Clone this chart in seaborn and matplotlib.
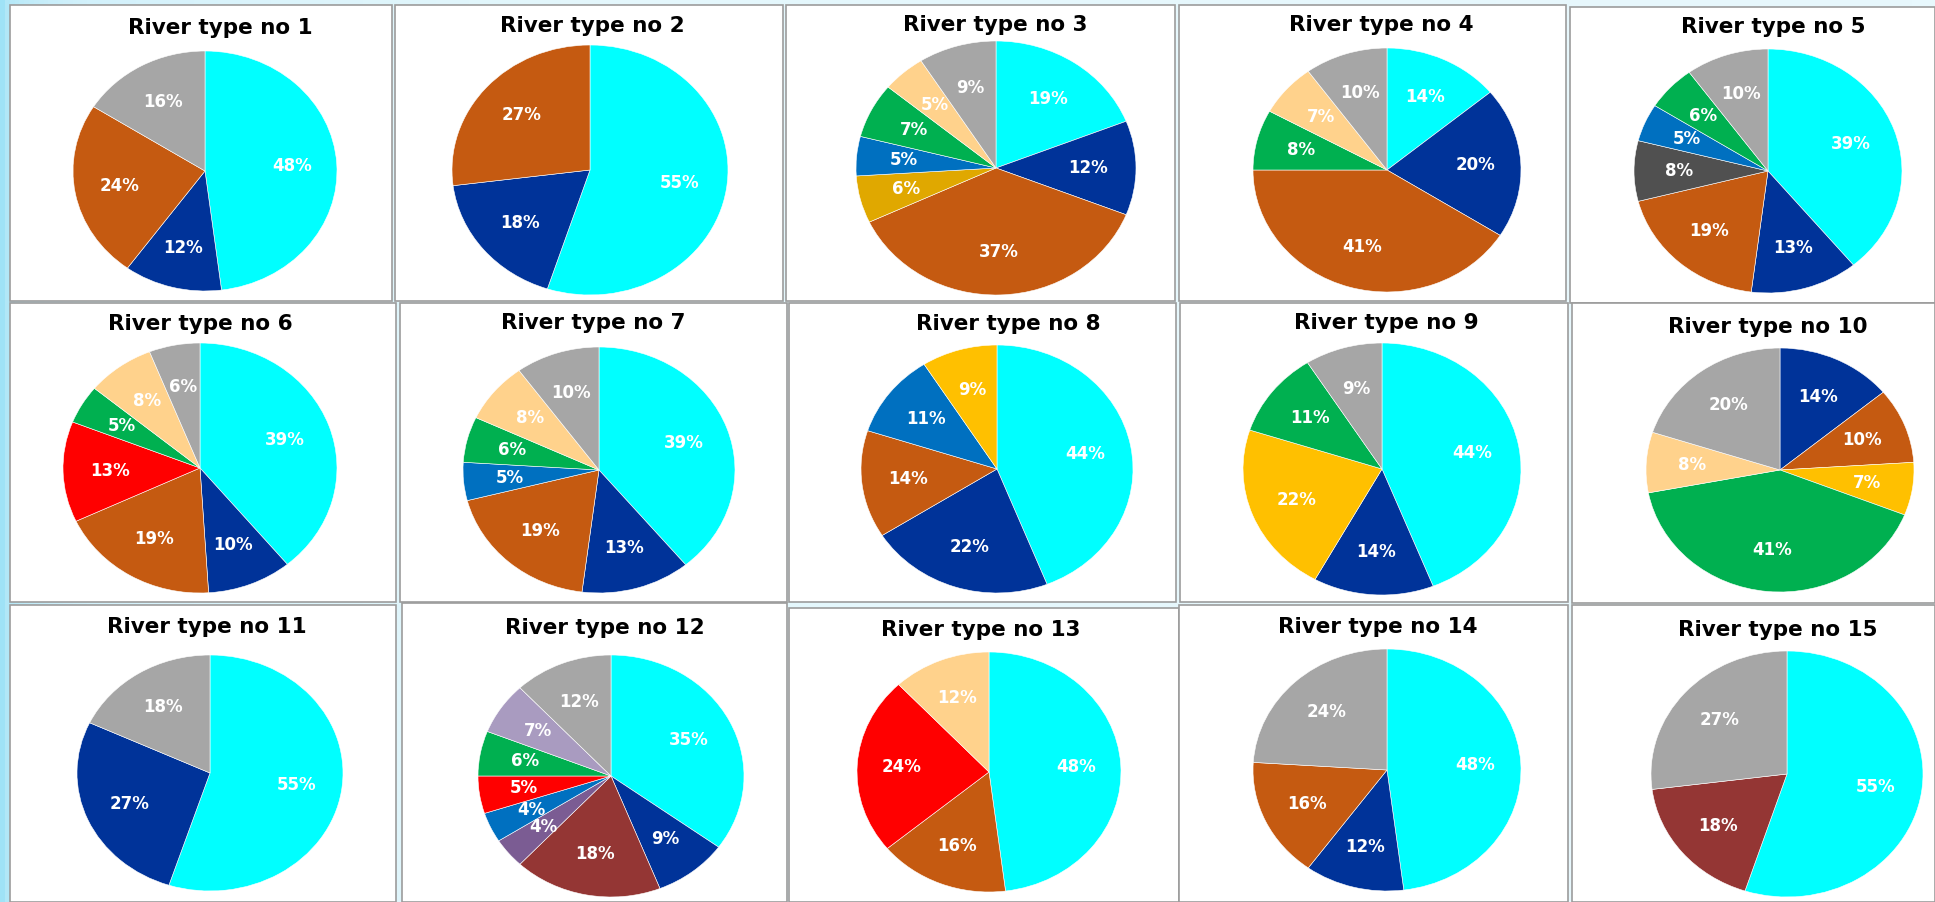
import matplotlib
matplotlib.use("Agg")
import matplotlib.pyplot as plt
from matplotlib.patches import Rectangle
from matplotlib.colors import LinearSegmentedColormap
import numpy as np
import seaborn as sns

# ---------------- data ----------------
titles = ["River type no 1", "River type no 2", "River type no 3", "River type no 4",
          "River type no 5", "River type no 6", "River type no 7", "River type no 8",
          "River type no 9", "River type no 10", "River type no 11", "River type no 12",
          "River type no 13", "River type no 14", "River type no 15"]

river_01_shares = [48, 12, 24, 16]
river_01_classes = ["cyan", "navy", "rust", "gray"]
river_02_shares = [55, 18, 27]
river_02_classes = ["cyan", "navy", "rust"]
river_03_shares = [19, 12, 37, 6, 5, 7, 5, 9]
river_03_classes = ["cyan", "navy", "rust", "ochre", "blue", "green", "peach", "gray"]
river_04_shares = [14, 20, 41, 8, 7, 10]
river_04_classes = ["cyan", "navy", "rust", "green", "peach", "gray"]
river_05_shares = [39, 13, 19, 8, 5, 6, 10]
river_05_classes = ["cyan", "navy", "rust", "charcoal", "blue", "green", "gray"]
river_06_shares = [39, 10, 19, 13, 5, 8, 6]
river_06_classes = ["cyan", "navy", "rust", "red", "green", "peach", "gray"]
river_07_shares = [39, 13, 19, 5, 6, 8, 10]
river_07_classes = ["cyan", "navy", "rust", "blue", "green", "peach", "gray"]
river_08_shares = [44, 22, 14, 11, 9]
river_08_classes = ["cyan", "navy", "rust", "blue", "gold"]
river_09_shares = [44, 14, 22, 11, 9]
river_09_classes = ["cyan", "navy", "gold", "green", "gray"]
river_10_shares = [14, 10, 7, 41, 8, 20]
river_10_classes = ["navy", "rust", "gold", "green", "peach", "gray"]
river_11_shares = [55, 27, 18]
river_11_classes = ["cyan", "navy", "gray"]
river_12_shares = [35, 9, 18, 4, 4, 5, 6, 7, 12]
river_12_classes = ["cyan", "navy", "maroon", "purple", "blue", "red", "green", "lavender", "gray"]
river_13_shares = [48, 16, 24, 12]
river_13_classes = ["cyan", "rust", "red", "peach"]
river_14_shares = [48, 12, 16, 24]
river_14_classes = ["cyan", "navy", "rust", "gray"]
river_15_shares = [55, 18, 27]
river_15_classes = ["cyan", "maroon", "gray"]

shares = [river_01_shares, river_02_shares, river_03_shares, river_04_shares, river_05_shares,
          river_06_shares, river_07_shares, river_08_shares, river_09_shares, river_10_shares,
          river_11_shares, river_12_shares, river_13_shares, river_14_shares, river_15_shares]
classes = [river_01_classes, river_02_classes, river_03_classes, river_04_classes, river_05_classes,
           river_06_classes, river_07_classes, river_08_classes, river_09_classes, river_10_classes,
           river_11_classes, river_12_classes, river_13_classes, river_14_classes, river_15_classes]

# ---------------- style ----------------
palette = {
    "cyan": "#00FFFF", "navy": "#003399", "rust": "#C55A11", "gray": "#A6A6A6",
    "ochre": "#E0A800", "blue": "#0070C0", "green": "#00B050", "peach": "#FFD28C",
    "charcoal": "#505050", "red": "#FF0000", "gold": "#FFC000", "maroon": "#943634",
    "purple": "#7B5C93", "lavender": "#A99BC0",
}

# ---------------- layout (pixels) ----------------
W, H = 1935, 902
panel_boxes = [(10, 5, 392, 301), (395, 5, 783, 301), (786, 5, 1175, 301),
               (1179, 5, 1566, 301), (1570, 7, 1935, 303),
               (10, 303, 396, 602), (400, 303, 787, 602), (789, 303, 1176, 602),
               (1180, 303, 1568, 602), (1572, 303, 1935, 603),
               (10, 605, 396, 902), (402, 603, 787, 902), (789, 608, 1179, 902),
               (1179, 605, 1568, 902), (1572, 605, 1935, 902)]
pie_geom = [(205, 171, 132, 120), (590, 170, 138, 125), (996, 168, 140, 127),
            (1387, 170, 134, 122), (1768, 171, 134, 122),
            (200, 468, 137, 125), (599, 470, 136, 123), (997, 469, 136, 124),
            (1382, 469, 139, 126), (1780, 470, 134, 122),
            (210, 773, 133, 118), (611, 776, 133, 121), (989, 772, 132, 120),
            (1387, 770, 134, 121), (1787, 774, 136, 123)]
title_pos = [(220, 28), (592, 26), (995, 25), (1381, 25), (1773, 27),
             (200, 324), (593, 323), (1008, 324), (1386, 323), (1768, 327),
             (207, 627), (605, 628), (981, 630), (1378, 627), (1778, 630)]

sns.set_theme(style="white")
plt.rcParams["font.family"] = ["DejaVu Sans"]

fig = plt.figure(figsize=(W / 100, H / 100), dpi=100)

# background gradient
bg = fig.add_axes([0, 0, 1, 1], zorder=-10)
cmap = LinearSegmentedColormap.from_list("bg", ["#9fe2f6", "#d2f1fb", "#e4f7fc", "#e8f8fd"])
grad = np.linspace(0, 1, 400).reshape(1, -1) ** 0.35
bg.imshow(grad, aspect="auto", cmap=cmap, extent=[0, 1, 0, 1])
bg.set_axis_off()

for i in range(15):
    x0, y0, x1, y1 = panel_boxes[i]
    fig.add_artist(Rectangle((x0 / W, 1 - y1 / H), (x1 - x0) / W, (y1 - y0) / H,
                             transform=fig.transFigure, facecolor="white",
                             edgecolor="#9c9c9c", linewidth=1.2, zorder=-5))
    cx, cy, rx, ry = pie_geom[i]
    ax = fig.add_axes([(cx - rx) / W, 1 - (cy + ry) / H, 2 * rx / W, 2 * ry / H], zorder=2)
    cols = [palette[c] for c in classes[i]]
    wedges, texts, autotexts = ax.pie(
        shares[i], colors=cols, startangle=90, counterclock=False, radius=1,
        autopct=lambda p: f"{p:.0f}%", pctdistance=0.66,
        wedgeprops=dict(edgecolor="white", linewidth=0.4),
        textprops=dict(color="white", fontsize=12, fontweight="bold"))
    ax.set_xlim(-1, 1)
    ax.set_ylim(-1, 1)
    ax.set_aspect("auto")
    ax.set_axis_off()
    tx, ty = title_pos[i]
    fig.text(tx / W, 1 - ty / H, titles[i], ha="center", va="center",
             fontsize=15.5, fontweight="bold", color="black")

fig.savefig("out.png", dpi=100)
